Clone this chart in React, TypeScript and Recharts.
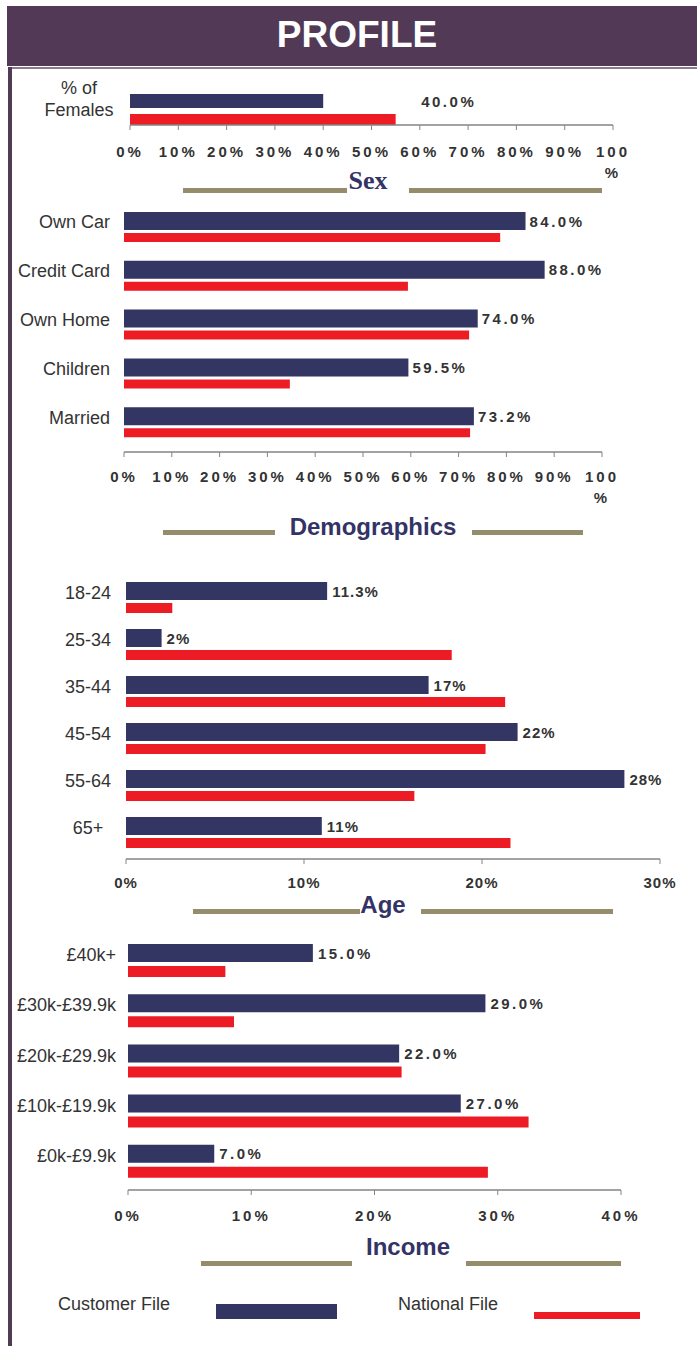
import React from 'react';
import { BarChart, Bar, XAxis, YAxis, LabelList } from 'recharts';

const FONT = '"Liberation Sans", Arial, sans-serif';
const SERIF = '"Liberation Serif", "Times New Roman", serif';
const NAVY = '#333563';
const RED = '#ED1C24';
const OLIVE = '#958C6B';
const PURPLE = '#523A57';
const AXIS = '#858585';
const TEXT = '#333333';

// ---- Sex ----
const sexCategories = ['% of\nFemales'];
const sexCustomer = [40.0];
const sexNational = [55.0];
const sexTicks = [0, 10, 20, 30, 40, 50, 60, 70, 80, 90, 100];

// ---- Demographics ----
const demoCategories = ['Own Car', 'Credit Card', 'Own Home', 'Children', 'Married'];
const demoCustomer = [84.0, 88.0, 74.0, 59.5, 73.2];
const demoNational = [78.7, 59.4, 72.2, 34.7, 72.4];
const demoTicks = [0, 10, 20, 30, 40, 50, 60, 70, 80, 90, 100];

// ---- Age ----
const ageCategories = ['18-24', '25-34', '35-44', '45-54', '55-64', '65+'];
const ageCustomer = [11.3, 2, 17, 22, 28, 11];
const ageNational = [2.6, 18.3, 21.3, 20.2, 16.2, 21.6];
const ageTicks = [0, 10, 20, 30];

// ---- Income ----
const incomeCategories = ['£40k+', '£30k-£39.9k', '£20k-£29.9k', '£10k-£19.9k', '£0k-£9.9k'];
const incomeCustomer = [15.0, 29.0, 22.0, 27.0, 7.0];
const incomeNational = [7.9, 8.6, 22.2, 32.5, 29.2];
const incomeTicks = [0, 10, 20, 30, 40];

const legendLabels = ['Customer File', 'National File'];

type Row = { name: string; customer: number; national: number };
const build = (c: string[], a: number[], b: number[]): Row[] =>
  c.map((name, i) => ({ name, customer: a[i], national: b[i] }));

const fmt1 = (v: number) => `${v.toFixed(1)}%`;
const fmtPlain = (v: number) => `${v}%`;

type PanelProps = {
  data: Row[];
  max: number;
  ticks: number[];
  plotTop: number;
  axisY: number;
  plotLeft: number;
  plotRight: number;
  padBottom: number;
  blueSize: number;
  redSize: number;
  gap: number;
  tickDy: number;
  tickSpacing: number;
  wrapMax: boolean;
  labelOffset: number;
  labelSpacing: number;
  format: (v: number) => string;
  catX: number;
  catAnchor: 'start' | 'middle' | 'end';
  catDy: number;
};

const TOP_PAD = 30;

function Panel(p: PanelProps) {
  const T = p.plotTop - TOP_PAD;
  const xAxisH = 60;
  const H = p.axisY - T + xAxisH;

  const xTick = (props: any) => {
    const { x, y, payload } = props;
    const v = payload.value as number;
    const common = {
      fontFamily: FONT,
      fontSize: 15,
      fontWeight: 700,
      fill: TEXT,
      textAnchor: 'middle' as const,
      style: { letterSpacing: `${p.tickSpacing}px` },
    };
    if (p.wrapMax && v === p.max) {
      return (
        <text {...common} x={x} y={y + p.tickDy}>
          <tspan x={x}>{`${v}`}</tspan>
          <tspan x={x} dy={21}>%</tspan>
        </text>
      );
    }
    return (
      <text {...common} x={x} y={y + p.tickDy}>
        {`${v}%`}
      </text>
    );
  };

  const yTick = (props: any) => {
    const { y, payload } = props;
    const lines = String(payload.value).split('\n');
    if (lines.length > 1) {
      return (
        <text
          x={p.catX}
          y={y - 15}
          fontFamily={FONT}
          fontSize={18}
          fill={TEXT}
          textAnchor={p.catAnchor}
        >
          {lines.map((l, i) => (
            <tspan key={i} x={p.catX} dy={i === 0 ? 0 : 22}>
              {l}
            </tspan>
          ))}
        </text>
      );
    }
    return (
      <text
        x={p.catX}
        y={y + p.catDy}
        fontFamily={FONT}
        fontSize={18}
        fill={TEXT}
        textAnchor={p.catAnchor}
      >
        {payload.value}
      </text>
    );
  };

  const renderLabel = (props: any) => {
    const vb = props.viewBox || {};
    const bx = Number(vb.x ?? props.x);
    const by = Number(vb.y ?? props.y);
    const bw = Number(vb.width ?? props.width);
    const bh = Number(vb.height ?? props.height);
    return (
      <text
        x={bx + bw + p.labelOffset}
        y={by + bh / 2 + 5.5}
        fontFamily={FONT}
        fontSize={15}
        fontWeight={700}
        fill={TEXT}
        style={{ letterSpacing: `${p.labelSpacing}px` }}
      >
        {p.format(Number(props.value))}
      </text>
    );
  };

  return (
    <div style={{ position: 'absolute', left: 0, top: T }}>
      <BarChart
        width={697}
        height={H}
        data={p.data}
        layout="vertical"
        barGap={p.gap}
        margin={{ top: TOP_PAD, right: 697 - p.plotRight, bottom: 0, left: 0 }}
        style={{ overflow: 'visible' }}
      >
        <XAxis
          type="number"
          domain={[0, p.max]}
          ticks={p.ticks}
          interval={0}
          height={xAxisH}
          axisLine={{ stroke: AXIS, strokeWidth: 1.5 }}
          tickLine={{ stroke: AXIS }}
          tickSize={5}
          tickMargin={2}
          tick={xTick}
        />
        <YAxis
          type="category"
          dataKey="name"
          width={p.plotLeft}
          axisLine={false}
          tickLine={false}
          interval={0}
          padding={{ top: 0, bottom: p.padBottom }}
          tick={yTick}
        />
        <Bar dataKey="customer" fill={NAVY} barSize={p.blueSize} isAnimationActive={false}>
          <LabelList dataKey="customer" content={renderLabel} />
        </Bar>
        <Bar dataKey="national" fill={RED} barSize={p.redSize} isAnimationActive={false} />
      </BarChart>
    </div>
  );
}

function Background() {
  const title = (t: string, cx: number, baseline: number, serif = false) => (
    <text
      x={cx}
      y={baseline}
      textAnchor="middle"
      fontFamily={serif ? SERIF : FONT}
      fontWeight={700}
      fontSize={serif ? 26 : 24}
      fill="#333366"
    >
      {t}
    </text>
  );
  const line = (x1: number, x2: number, y: number) => (
    <rect x={x1} y={y} width={x2 - x1} height={5} fill={OLIVE} />
  );
  return (
    <svg
      width={697}
      height={1346}
      style={{ position: 'absolute', left: 0, top: 0 }}
    >
      <rect x={0} y={0} width={697} height={1346} fill="#ffffff" />
      <rect x={7} y={6} width={690} height={60} fill={PURPLE} />
      <text
        x={357}
        y={47}
        textAnchor="middle"
        fontFamily={FONT}
        fontWeight={700}
        fontSize={37}
        fill="#ffffff"
      >
        PROFILE
      </text>
      <rect x={8} y={67} width={689} height={2} fill="#8a7a8d" />
      <rect x={8} y={67} width={4} height={1279} fill={PURPLE} />

      {line(183, 347, 188)}
      {line(409, 602, 188)}
      {title('Sex', 368, 189, true)}

      {line(163, 275, 530)}
      {line(472, 583, 530)}
      {title('Demographics', 373, 535)}

      {line(193, 360, 909)}
      {line(421, 613, 909)}
      {title('Age', 383, 913)}

      {line(201, 352, 1261)}
      {line(466, 621, 1261)}
      {title('Income', 408, 1255)}

      <text x={58} y={1310} fontFamily={FONT} fontSize={18} fill={TEXT}>
        {legendLabels[0]}
      </text>
      <rect x={216} y={1304} width={121} height={15} fill={NAVY} />
      <text x={398} y={1310} fontFamily={FONT} fontSize={18} fill={TEXT}>
        {legendLabels[1]}
      </text>
      <rect x={534} y={1312} width={106} height={7} fill={RED} />
    </svg>
  );
}

export default function App() {
  return (
    <div style={{ position: 'absolute', left: 0, top: 0, width: 697, height: 1346, background: '#fff' }}>
      <Background />
      <Panel
        data={build(sexCategories, sexCustomer, sexNational)}
        max={100}
        ticks={sexTicks}
        plotTop={93}
        axisY={125}
        plotLeft={130}
        plotRight={613}
        padBottom={0}
        blueSize={14}
        redSize={11}
        gap={6}
        tickDy={25}
        tickSpacing={3}
        wrapMax={true}
        labelOffset={98}
        labelSpacing={2.5}
        format={fmt1}
        catX={79}
        catAnchor="middle"
        catDy={1}
      />
      <Panel
        data={build(demoCategories, demoCustomer, demoNational)}
        max={100}
        ticks={demoTicks}
        plotTop={203}
        axisY={452}
        plotLeft={124}
        plotRight={602}
        padBottom={5}
        blueSize={18}
        redSize={9}
        gap={3}
        tickDy={23}
        tickSpacing={3}
        wrapMax={true}
        labelOffset={4}
        labelSpacing={2.5}
        format={fmt1}
        catX={110}
        catAnchor="end"
        catDy={1}
      />
      <Panel
        data={build(ageCategories, ageCustomer, ageNational)}
        max={30}
        ticks={ageTicks}
        plotTop={574}
        axisY={859}
        plotLeft={126}
        plotRight={660}
        padBottom={3}
        blueSize={18}
        redSize={10}
        gap={3}
        tickDy={22}
        tickSpacing={1}
        wrapMax={false}
        labelOffset={5}
        labelSpacing={1}
        format={fmtPlain}
        catX={88}
        catAnchor="middle"
        catDy={1}
      />
      <Panel
        data={build(incomeCategories, incomeCustomer, incomeNational)}
        max={40}
        ticks={incomeTicks}
        plotTop={935}
        axisY={1190}
        plotLeft={128}
        plotRight={621}
        padBottom={4}
        blueSize={18}
        redSize={11}
        gap={4}
        tickDy={24}
        tickSpacing={3}
        wrapMax={false}
        labelOffset={5}
        labelSpacing={2.5}
        format={fmt1}
        catX={116}
        catAnchor="end"
        catDy={1}
      />
    </div>
  );
}
